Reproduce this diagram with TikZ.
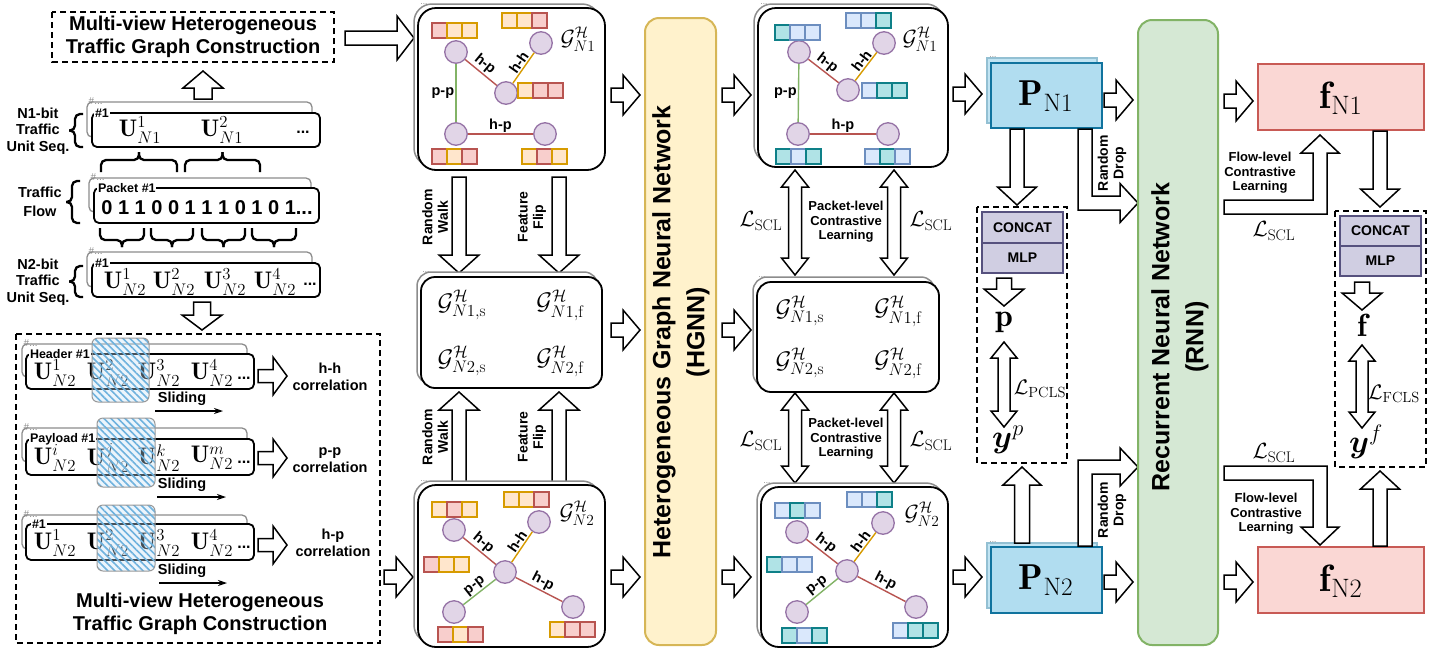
\RequirePackage{fix-cm}
\documentclass[tikz,border=0pt]{standalone}
\usepackage{amsmath}
\usepackage{fontspec}
\setsansfont{Liberation Sans}
\usetikzlibrary{calc,patterns.meta,arrows.meta}
\definecolor{nodeF}{RGB}{225,213,231}
\definecolor{nodeS}{RGB}{150,115,166}
\definecolor{edgeR}{RGB}{184,84,80}
\definecolor{edgeO}{RGB}{215,155,0}
\definecolor{edgeG}{RGB}{130,179,102}
\definecolor{redF}{RGB}{248,206,204}
\definecolor{redS}{RGB}{184,84,80}
\definecolor{orF}{RGB}{255,230,204}
\definecolor{orS}{RGB}{215,155,0}
\definecolor{teF}{RGB}{176,227,230}
\definecolor{teS}{RGB}{14,128,136}
\definecolor{blF}{RGB}{218,232,252}
\definecolor{blS}{RGB}{108,142,191}
\definecolor{hgF}{RGB}{255,242,204}
\definecolor{hgS}{RGB}{214,182,86}
\definecolor{rnF}{RGB}{213,232,212}
\definecolor{rnS}{RGB}{130,179,102}
\definecolor{pF}{RGB}{177,221,240}
\definecolor{pS}{RGB}{16,115,158}
\definecolor{fF}{RGB}{250,215,212}
\definecolor{fS}{RGB}{200,90,85}
\definecolor{cF}{RGB}{208,206,226}
\definecolor{cS}{RGB}{86,81,126}
\definecolor{hatchF}{RGB}{200,226,246}
\definecolor{hatchL}{RGB}{110,178,222}

% block arrow: start, end, shaft half width, head half width, head length
\newcommand\blkarrow[5]{%
  \coordinate (tmpH) at ($(#2)!#5pt!(#1)$);
  \draw[blk] ($(#1)!#3pt!90:(#2)$) -- ($(tmpH)!#3pt!90:(#2)$) -- ($(tmpH)!#4pt!90:(#2)$) -- (#2)
    -- ($(tmpH)!#4pt!-90:(#2)$) -- ($(tmpH)!#3pt!-90:(#2)$) -- ($(#1)!#3pt!-90:(#2)$) -- cycle;}
% double block arrow
\newcommand\dblarrow[5]{%
  \coordinate (tmpA) at ($(#1)!#5pt!(#2)$);
  \coordinate (tmpB) at ($(#2)!#5pt!(#1)$);
  \draw[blk] (#1) -- ($(tmpA)!#4pt!90:(#2)$) -- ($(tmpA)!#3pt!90:(#2)$) -- ($(tmpB)!#3pt!90:(#2)$)
    -- ($(tmpB)!#4pt!90:(#2)$) -- (#2) -- ($(tmpB)!#4pt!-90:(#2)$) -- ($(tmpB)!#3pt!-90:(#2)$)
    -- ($(tmpA)!#3pt!-90:(#2)$) -- ($(tmpA)!#4pt!-90:(#2)$) -- cycle;}
% horizontal bracket: x1,x2,yend,ybar,ytip
\newcommand\brkH[5]{%
  \draw[brk] (#1,#3) -- (#1,#4) -- ({(#1+#2)/2},#4) -- ({(#1+#2)/2},#5);
  \draw[brk] (#2,#3) -- (#2,#4) -- ({(#1+#2)/2},#4) -- ({(#1+#2)/2},#5);}
% vertical bracket: y1,y2,xend,xbar,xtip
\newcommand\brkV[5]{%
  \draw[brk] (#3,#1) -- (#4,#1) -- (#4,{(#1+#2)/2}) -- (#5,{(#1+#2)/2});
  \draw[brk] (#3,#2) -- (#4,#2) -- (#4,{(#1+#2)/2}) -- (#5,{(#1+#2)/2});}
% feature vector of three cells
\newcommand\fvec[5]{%
  \draw[#3] (#1,#2) rectangle ++(15,15);
  \draw[#4] ({#1+15},#2) rectangle ++(15,15);
  \draw[#5] ({#1+30},#2) rectangle ++(15,15);}
% hatched sliding window
\newcommand\hatchbox[4]{%
  \fill[rounded corners=6pt,fill=hatchF,fill opacity=0.35] (#1,#2) rectangle (#3,#4);
  \fill[rounded corners=6pt,pattern={Lines[angle=-45,distance=5pt,line width=1.6pt]},pattern color=hatchL,fill opacity=0.6] (#1,#2) rectangle (#3,#4);
  \draw[rounded corners=6pt,draw=black!40,line width=1pt] (#1,#2) rectangle (#3,#4);}

\begin{document}
\begin{tikzpicture}[x=1pt,y=-1pt,
  blk/.style={draw=black,fill=white,line width=1.5pt,line join=miter},
  dbox/.style={draw=black,line width=1.6pt,dash pattern=on 6pt off 4pt},
  seqback/.style={draw=black!45,line width=1.3pt,rounded corners=5pt},
  seqfront/.style={draw=black,fill=white,line width=1.8pt,rounded corners=5pt},
  gback/.style={draw=black!45,fill=white,line width=1.5pt,rounded corners=18pt},
  gfront/.style={draw=black,fill=white,line width=1.8pt,rounded corners=18pt},
  gn/.style={circle,draw=nodeS,fill=nodeF,line width=1.3pt,minimum size=22.5pt,inner sep=0pt},
  er/.style={draw=edgeR,line width=1.4pt},
  eo/.style={draw=edgeO,line width=1.4pt},
  eg/.style={draw=edgeG,line width=1.4pt},
  cr/.style={fill=redF,draw=redS,line width=1.3pt},
  co/.style={fill=orF,draw=orS,line width=1.3pt},
  ct/.style={fill=teF,draw=teS,line width=1.3pt},
  cb/.style={fill=blF,draw=blS,line width=1.3pt},
  brk/.style={draw=black,line width=2.3pt,rounded corners=5pt},
  elab/.style={font=\sffamily\bfseries\fontsize{14.5}{15}\selectfont,inner sep=1.2pt},
  lbl/.style={font=\sffamily\bfseries\fontsize{14.5}{16.5}\selectfont,align=center,inner sep=0pt},
  slbl/.style={font=\sffamily\bfseries\fontsize{13}{14.5}\selectfont,align=center,inner sep=0pt},
  rlbl/.style={font=\sffamily\bfseries\fontsize{14}{15.5}\selectfont,align=center,inner sep=0pt,rotate=90},
  ttl/.style={font=\sffamily\bfseries\fontsize{20}{22.5}\selectfont,align=center,inner sep=0pt},
  mth/.style={font=\fontsize{24}{28}\selectfont,inner sep=0pt},
  lmth/.style={font=\fontsize{22}{26}\selectfont,inner sep=0pt},
  hsh/.style={font=\sffamily\fontsize{10}{10}\selectfont,text=black!45,inner sep=0.5pt,anchor=west},
  hsb/.style={font=\sffamily\bfseries\fontsize{12.5}{13}\selectfont,fill=white,inner sep=0.8pt,anchor=west},
  dts/.style={font=\sffamily\bfseries\fontsize{16}{16}\selectfont,inner sep=0pt},
  tiny/.style={font=\sffamily\fontsize{8}{8}\selectfont,text=black!50,inner sep=0pt},
  slide/.style={-{Stealth[length=9pt,width=6pt]},line width=1.4pt}]
\useasboundingbox (0,0) rectangle (1431,654);

%================ LEFT COLUMN ================
\draw[dbox] (52,12) rectangle (334,62);
\node[ttl] (toptitle) at (193,37) {Multi-view Heterogeneous\\Traffic Graph Construction};
\blkarrow{345,38}{414,38}{7}{22}{17}
\blkarrow{203,99}{203,71}{9}{20}{17}

% N1-bit sequence
\draw[seqback] (87,102) rectangle (312,137);
\draw[seqfront] (92,113) rectangle (320,147);
\node[hsh] (n1h) at (88,101) {\#...};
\node[hsb] (n1n) at (94,113) {\#1};
\node[mth] (u11) at (140,130) {$\mathbf{U}^{1}_{N1}$};
\node[mth] (u12) at (222,130) {$\mathbf{U}^{2}_{N1}$};
\node[dts] (n1d) at (303,132) {...};
\node[lbl] (labn1) at (38,131) {N1-bit\\Traffic\\Unit Seq.};
\brkV{114}{147}{83}{75}{69}

% brackets between N1 and flow
\brkH{101}{177}{172}{160}{152}
\brkH{185}{260}{172}{160}{152}

% traffic flow
\draw[seqback] (89,178) rectangle (311,212);
\draw[seqfront] (94,188) rectangle (319,223);
\node[hsh] (tfh) at (90,177) {\#...};
\node[hsb] (tfn) at (97,188) {Packet \#1};
\node[font=\sffamily\bfseries\fontsize{20}{22}\selectfont,inner sep=0pt] (bits) at (207,208) {0 1 1 0 0 1 1 1 0 1 0 1...};
\node[lbl,font=\sffamily\bfseries\fontsize{14.5}{18.5}\selectfont] (labtf) at (40,202) {Traffic\\Flow};
\brkV{181}{223}{80}{72}{66}

% brackets between flow and N2
\brkH{100}{144}{228}{240}{247}
\brkH{151}{193}{228}{240}{247}
\brkH{202}{245}{228}{240}{247}
\brkH{252}{296}{228}{240}{247}

% N2-bit sequence
\draw[seqback] (87,252) rectangle (312,287);
\draw[seqfront] (92,263) rectangle (320,297);
\node[hsh] (n2h) at (88,251) {\#...};
\node[hsb] (n2n) at (94,263) {\#1};
\node[mth] (u21) at (125,282) {$\mathbf{U}^{1}_{N2}$};
\node[mth] (u22) at (174,282) {$\mathbf{U}^{2}_{N2}$};
\node[mth] (u23) at (225,282) {$\mathbf{U}^{3}_{N2}$};
\node[mth] (u24) at (275,282) {$\mathbf{U}^{4}_{N2}$};
\node[dts] (n2d) at (310,284) {...};
\node[lbl] (labn2) at (38,282) {N2-bit\\Traffic\\Unit Seq.};
\brkV{266}{297}{83}{75}{69}
\blkarrow{202,302}{202,330}{8.5}{20}{15}

% big dashed box
\draw[dbox] (16,334) rectangle (380,643);
% row 1
\draw[seqback] (22,344) rectangle (247,377);
\draw[seqfront] (26,354) rectangle (254,389);
\node[hsh] (r1h) at (23,343) {\#...};
\node[hsb] (r1n) at (29,354) {Header \#1};
\node[mth] (r1u1) at (55,373) {$\mathbf{U}^{1}_{N2}$};
\node[mth] (r1u2) at (108,373) {$\mathbf{U}^{2}_{N2}$};
\node[mth] (r1u3) at (159,373) {$\mathbf{U}^{3}_{N2}$};
\node[mth] (r1u4) at (212,373) {$\mathbf{U}^{4}_{N2}$};
\node[dts] (r1d) at (244,378) {...};
\hatchbox{92}{338}{149}{402}
\blkarrow{258,376}{287,376}{6.5}{19}{14}
\node[lbl] (r1c) at (330,377) {h-h\\correlation};
\node[lbl] (r1s) at (182,399) {Sliding};
\coordinate (r1sa) at (155,411); \coordinate (r1sb) at (223,411);
\draw[slide] (r1sa) -- (r1sb);
% row 2
\draw[seqback] (22,428) rectangle (247,462);
\draw[seqfront] (26,439) rectangle (254,475);
\node[hsh] (r2h) at (23,427) {\#...};
\node[hsb] (r2n) at (29,439) {Payload \#1};
\node[mth] (r2u1) at (55,458) {$\mathbf{U}^{i}_{N2}$};
\node[mth] (r2u2) at (108,458) {$\mathbf{U}^{j}_{N2}$};
\node[mth] (r2u3) at (159,458) {$\mathbf{U}^{k}_{N2}$};
\node[mth] (r2u4) at (212,458) {$\mathbf{U}^{m}_{N2}$};
\node[dts] (r2d) at (244,462) {...};
\hatchbox{97}{418}{155}{487}
\blkarrow{258,458}{287,458}{6.5}{19}{14}
\node[lbl] (r2c) at (330,460) {p-p\\correlation};
\node[lbl] (r2s) at (182,485) {Sliding};
\coordinate (r2sa) at (157,497); \coordinate (r2sb) at (226,497);
\draw[slide] (r2sa) -- (r2sb);
% row 3
\draw[seqback] (22,515) rectangle (247,549);
\draw[seqfront] (26,524) rectangle (254,560);
\node[hsh] (r3h) at (23,514) {\#...};
\node[hsb] (r3n) at (31,524) {\#1};
\node[mth] (r3u1) at (55,543) {$\mathbf{U}^{1}_{N2}$};
\node[mth] (r3u2) at (108,543) {$\mathbf{U}^{2}_{N2}$};
\node[mth] (r3u3) at (159,543) {$\mathbf{U}^{3}_{N2}$};
\node[mth] (r3u4) at (212,543) {$\mathbf{U}^{4}_{N2}$};
\node[dts] (r3d) at (244,547) {...};
\hatchbox{97}{505}{155}{571}
\blkarrow{258,545}{287,545}{6.5}{19}{14}
\node[lbl] (r3c) at (333,543) {h-p\\correlation};
\node[lbl] (r3s) at (182,571) {Sliding};
\coordinate (r3sa) at (159,583); \coordinate (r3sb) at (227,583);
\draw[slide] (r3sa) -- (r3sb);
\node[ttl] (bottitle) at (200,614) {Multi-view Heterogeneous\\Traffic Graph Construction};
\blkarrow{384,577}{413,577}{7}{20}{17}

%================ GRAPH COLUMN 1 ================
\blkarrow{459,177}{459,273}{7}{20}{18}
\blkarrow{559,177}{559,273}{7}{20}{18}
\blkarrow{459,485}{459,392}{7}{20}{18}
\blkarrow{559,485}{559,392}{7}{20}{18}
\node[rlbl] (rw1) at (435,217) {Random\\Walk};
\node[rlbl] (ff1) at (532,217) {Feature\\Flip};
\node[rlbl] (rw2) at (435,437) {Random\\Walk};
\node[rlbl] (ff2) at (532,437) {Feature\\Flip};

% top graph
\draw[gback] (414,4) rectangle (600,166);
\draw[gfront] (418,8) rectangle (605,170);
\node[tiny] (g1dots) at (424,4) {...};
\node[lmth] (g1lab) at (578,39) {$\mathcal{G}^{\mathcal{H}}_{N1}$};
\node[gn] (g1a) at (456,52) {};
\node[gn] (g1b) at (541,43) {};
\node[gn] (g1c) at (506,93) {};
\node[gn] (g1d) at (456,134) {};
\node[gn] (g1e) at (545,134) {};
\draw[er] (g1a) -- node[elab,above,sloped,pos=0.45] (g1l1) {h-p} (g1c);
\draw[eo] (g1c) -- node[elab,above,sloped,pos=0.55] (g1l2) {h-h} (g1b);
\draw[eg] (g1a) -- node[elab,left] (g1l3) {p-p} (g1d);
\draw[er] (g1d) -- node[elab,above] (g1l4) {h-p} (g1e);
\fvec{432}{23}{cr}{co}{co}
\fvec{502}{13}{co}{co}{cr}
\fvec{518}{83}{co}{cr}{cr}
\fvec{432}{149}{cr}{co}{cr}
\fvec{522}{149}{co}{cr}{co}

% middle box
\draw[gback,rounded corners=14pt] (417,272) rectangle (598,384);
\draw[gfront,rounded corners=14pt] (421,277) rectangle (602,388);
\node[tiny] (m1dots) at (426,272) {...};
\node[mth] (m1a) at (462,305) {$\mathcal{G}^{\mathcal{H}}_{N1,\mathrm{s}}$};
\node[mth] (m1b) at (560,305) {$\mathcal{G}^{\mathcal{H}}_{N1,\mathrm{f}}$};
\node[mth] (m1c) at (462,361) {$\mathcal{G}^{\mathcal{H}}_{N2,\mathrm{s}}$};
\node[mth] (m1d) at (560,361) {$\mathcal{G}^{\mathcal{H}}_{N2,\mathrm{f}}$};

% bottom graph
\draw[gback] (414,481) rectangle (600,643);
\draw[gfront] (418,485) rectangle (605,647);
\node[tiny] (g2dots) at (424,481) {...};
\node[lmth] (g2lab) at (577,513) {$\mathcal{G}^{\mathcal{H}}_{N2}$};
\node[gn] (g2a) at (454,530) {};
\node[gn] (g2b) at (539,522) {};
\node[gn] (g2c) at (505,572) {};
\node[gn] (g2d) at (454,612) {};
\node[gn] (g2e) at (573,607) {};
\draw[er] (g2a) -- node[elab,above,sloped,pos=0.45] (g2l1) {h-p} (g2c);
\draw[eo] (g2c) -- node[elab,above,sloped,pos=0.55] (g2l2) {h-h} (g2b);
\draw[eg] (g2d) -- node[elab,above,sloped] (g2l3) {p-p} (g2c);
\draw[er] (g2c) -- node[elab,above,sloped] (g2l4) {h-p} (g2e);
\fvec{432}{502}{co}{cr}{co}
\fvec{504}{492}{co}{co}{cr}
\fvec{424}{557}{cr}{co}{co}
\fvec{438}{627}{cr}{co}{cr}
\fvec{550}{622}{co}{cr}{cr}

%================ HGNN ================
\blkarrow{611,95}{640,95}{7}{20}{17}
\blkarrow{611,330}{640,330}{7}{20}{17}
\blkarrow{611,577}{640,577}{7}{20}{17}
\draw[draw=hgS,fill=hgF,line width=2pt,rounded corners=14pt] (645,18) rectangle (716,645);
\node[font=\sffamily\bfseries\fontsize{25}{34}\selectfont,align=center,rotate=90,inner sep=0pt] (hgnn) at (681,332) {Heterogeneous Graph Neural Network\\(HGNN)};
\blkarrow{722,95}{751,95}{7}{20}{17}
\blkarrow{722,330}{751,330}{7}{20}{17}
\blkarrow{722,577}{751,577}{7}{20}{17}

%================ GRAPH COLUMN 3 ================
\dblarrow{795,170}{795,275}{6.5}{13.5}{17}
\dblarrow{894,170}{894,275}{6.5}{13.5}{17}
\dblarrow{795,393}{795,483}{6.5}{13.5}{17}
\dblarrow{894,393}{894,483}{6.5}{13.5}{17}
\node[lmth] (ls1) at (761,221) {$\mathcal{L}_{\mathrm{SCL}}$};
\node[lmth] (ls2) at (931,221) {$\mathcal{L}_{\mathrm{SCL}}$};
\node[lmth] (ls3) at (761,441) {$\mathcal{L}_{\mathrm{SCL}}$};
\node[lmth] (ls4) at (931,441) {$\mathcal{L}_{\mathrm{SCL}}$};
\node[slbl] (pcl1) at (846,222) {Packet-level\\Contrastive\\Learning};
\node[slbl] (pcl2) at (846,439) {Packet-level\\Contrastive\\Learning};

% top graph
\draw[gback] (754,4) rectangle (944,163);
\draw[gfront] (758,8) rectangle (948,167);
\node[tiny] (g3dots) at (764,4) {...};
\node[lmth] (g3lab) at (920,39) {$\mathcal{G}^{\mathcal{H}}_{N1}$};
\node[gn] (g3a) at (799,52) {};
\node[gn] (g3b) at (884,43) {};
\node[gn] (g3c) at (848,90) {};
\node[gn] (g3d) at (798,134) {};
\node[gn] (g3e) at (888,134) {};
\draw[er] (g3a) -- node[elab,above,sloped,pos=0.45] (g3l1) {h-p} (g3c);
\draw[eo] (g3c) -- node[elab,above,sloped,pos=0.55] (g3l2) {h-h} (g3b);
\draw[eg] (g3a) -- node[elab,left] (g3l3) {p-p} (g3d);
\draw[er] (g3d) -- node[elab,above] (g3l4) {h-p} (g3e);
\fvec{775}{25}{ct}{cb}{cb}
\fvec{846}{13}{cb}{cb}{ct}
\fvec{862}{83}{cb}{ct}{ct}
\fvec{776}{149}{ct}{cb}{ct}
\fvec{865}{149}{cb}{ct}{cb}

% middle box
\draw[gback,rounded corners=14pt] (753,277) rectangle (935,387);
\draw[gfront,rounded corners=14pt] (757,282) rectangle (939,392);
\node[tiny] (m3dots) at (762,277) {...};
\node[mth] (m3a) at (800,311) {$\mathcal{G}^{\mathcal{H}}_{N1,\mathrm{s}}$};
\node[mth] (m3b) at (898,311) {$\mathcal{G}^{\mathcal{H}}_{N1,\mathrm{f}}$};
\node[mth] (m3c) at (800,363) {$\mathcal{G}^{\mathcal{H}}_{N2,\mathrm{s}}$};
\node[mth] (m3d) at (898,363) {$\mathcal{G}^{\mathcal{H}}_{N2,\mathrm{f}}$};

% bottom graph
\draw[gback] (757,483) rectangle (944,643);
\draw[gfront] (761,487) rectangle (948,647);
\node[tiny] (g4dots) at (767,483) {...};
\node[lmth] (g4lab) at (922,514) {$\mathcal{G}^{\mathcal{H}}_{N2}$};
\node[gn] (g4a) at (797,532) {};
\node[gn] (g4b) at (883,523) {};
\node[gn] (g4c) at (847,571) {};
\node[gn] (g4d) at (797,612) {};
\node[gn] (g4e) at (916,607) {};
\draw[er] (g4a) -- node[elab,above,sloped,pos=0.45] (g4l1) {h-p} (g4c);
\draw[eo] (g4c) -- node[elab,above,sloped,pos=0.55] (g4l2) {h-h} (g4b);
\draw[eg] (g4d) -- node[elab,above,sloped] (g4l3) {p-p} (g4c);
\draw[er] (g4c) -- node[elab,above,sloped] (g4l4) {h-p} (g4e);
\fvec{775}{503}{cb}{ct}{cb}
\fvec{847}{492}{cb}{cb}{ct}
\fvec{767}{557}{ct}{cb}{cb}
\fvec{782}{628}{ct}{cb}{ct}
\fvec{893}{623}{cb}{ct}{ct}

%================ P COLUMN ================
\blkarrow{953,94}{982,94}{7}{20}{17}
\blkarrow{953,577}{982,577}{7}{20}{17}
\draw[draw=pS!45,fill=pF!80,line width=1.3pt] (987,58) rectangle (1097,123);
\draw[draw=pS,fill=pF,line width=1.5pt] (991,63) rectangle (1102,128);
\node[tiny] (p1dots) at (993,57) {...};
\node[font=\fontsize{36}{40}\selectfont,inner sep=0pt] (pn1) at (1046,96) {$\mathbf{P}_{\mathrm{N1}}$};
\draw[draw=pS!45,fill=pF!80,line width=1.3pt] (987,543) rectangle (1097,608);
\draw[draw=pS,fill=pF,line width=1.5pt] (991,547) rectangle (1102,613);
\node[tiny] (p2dots) at (993,542) {...};
\node[font=\fontsize{36}{40}\selectfont,inner sep=0pt] (pn2) at (1046,580) {$\mathbf{P}_{\mathrm{N2}}$};
\blkarrow{1104,100}{1133,100}{7}{20}{17}
\blkarrow{1104,582}{1133,582}{7}{20}{17}

\blkarrow{1017,129}{1017,205}{7}{19.5}{18}
\blkarrow{1022,543}{1022,467}{7.5}{19}{18}
% random drop bent arrows
\draw[blk] (1078,129) -- (1078,210) -- (1120,210) -- (1120,222.5) -- (1138,203) -- (1120,183.5) -- (1120,196) -- (1092,196) -- (1092,129) -- cycle;
\draw[blk] (1078,546) -- (1078,460) -- (1120,460) -- (1120,448) -- (1138,467) -- (1120,486) -- (1120,474) -- (1092,474) -- (1092,546) -- cycle;
\node[rlbl] (rd1) at (1112,163) {Random\\Drop};
\node[rlbl] (rd2) at (1112,510) {Random\\Drop};

% concat box p
\draw[dbox] (977,207) rectangle (1067,463);
\node[draw=cS,fill=cF,line width=1.5pt,minimum width=81pt,minimum height=31pt,inner sep=0pt,font=\sffamily\bfseries\fontsize{14}{15}\selectfont] (cc1) at (1022.5,227.5) {CONCAT};
\node[draw=cS,fill=cF,line width=1.5pt,minimum width=81pt,minimum height=30pt,inner sep=0pt,font=\sffamily\bfseries\fontsize{14}{15}\selectfont] (ml1) at (1022.5,258) {MLP};
\blkarrow{1004,278}{1004,306}{7.5}{20}{17}
\node[font=\fontsize{32}{36}\selectfont,inner sep=0pt] (pp) at (1004,322) {$\mathbf{p}$};
\dblarrow{1004,342}{1004,427}{6}{13}{16}
\node[font=\fontsize{21}{24}\selectfont,inner sep=0pt] (lpcls) at (1040,389) {$\mathcal{L}_{\mathrm{PCLS}}$};
\node[font=\fontsize{32}{36}\selectfont,inner sep=0pt] (yp) at (1008,440) {$\boldsymbol{y}^{p}$};

%================ RNN ================
\draw[draw=rnS,fill=rnF,line width=2pt,rounded corners=14pt] (1138,20) rectangle (1218,645);
\node[font=\sffamily\bfseries\fontsize{25}{34}\selectfont,align=center,rotate=90,inner sep=0pt] (rnn) at (1180,337) {Recurrent Neural Network\\(RNN)};

%================ F COLUMN ================
\blkarrow{1224,101}{1253,101}{7}{20}{17}
\blkarrow{1224,582}{1253,582}{7}{20}{17}
\draw[draw=fS,fill=fF,line width=1.5pt] (1258,64) rectangle (1424,130);
\node[font=\fontsize{38}{42}\selectfont,inner sep=0pt] (fn1) at (1341,98) {$\mathbf{f}_{\mathrm{N1}}$};
\draw[draw=fS,fill=fF,line width=1.5pt] (1258,547) rectangle (1424,613);
\node[font=\fontsize{38}{42}\selectfont,inner sep=0pt] (fn2) at (1341,581) {$\mathbf{f}_{\mathrm{N2}}$};

\draw[blk] (1224,214) -- (1327,214) -- (1327,153) -- (1339,153) -- (1320,135) -- (1301,153) -- (1313,153) -- (1313,200) -- (1224,200) -- cycle;
\draw[blk] (1224,466) -- (1327,466) -- (1327,527) -- (1339,527) -- (1320,545) -- (1301,527) -- (1313,527) -- (1313,480) -- (1224,480) -- cycle;
\node[slbl] (fcl1) at (1260,173) {Flow-level\\Contrastive\\Learning};
\node[slbl] (fcl2) at (1266,514) {Flow-level\\Contrastive\\Learning};
\node[lmth] (ls5) at (1274,231) {$\mathcal{L}_{\mathrm{SCL}}$};
\node[lmth] (ls6) at (1274,453) {$\mathcal{L}_{\mathrm{SCL}}$};

\blkarrow{1380,131}{1380,207}{7}{19.5}{18}
\blkarrow{1380,546}{1380,471}{7}{19.5}{18}
\draw[dbox] (1335,211) rectangle (1426,467);
\node[draw=cS,fill=cF,line width=1.5pt,minimum width=81pt,minimum height=30pt,inner sep=0pt,font=\sffamily\bfseries\fontsize{14}{15}\selectfont] (cc2) at (1380.5,231) {CONCAT};
\node[draw=cS,fill=cF,line width=1.5pt,minimum width=81pt,minimum height=30pt,inner sep=0pt,font=\sffamily\bfseries\fontsize{14}{15}\selectfont] (ml2) at (1380.5,261) {MLP};
\blkarrow{1362,282}{1362,310}{7.5}{20}{17}
\node[font=\fontsize{32}{36}\selectfont,inner sep=0pt] (ff) at (1362,325) {$\mathbf{f}$};
\dblarrow{1362,345}{1362,428}{6}{13}{16}
\node[font=\fontsize{21}{24}\selectfont,inner sep=0pt] (lfcls) at (1394,394) {$\mathcal{L}_{\mathrm{FCLS}}$};
\node[font=\fontsize{32}{36}\selectfont,inner sep=0pt] (yf) at (1366,442) {$\boldsymbol{y}^{f}$};
\end{tikzpicture}
\end{document}
